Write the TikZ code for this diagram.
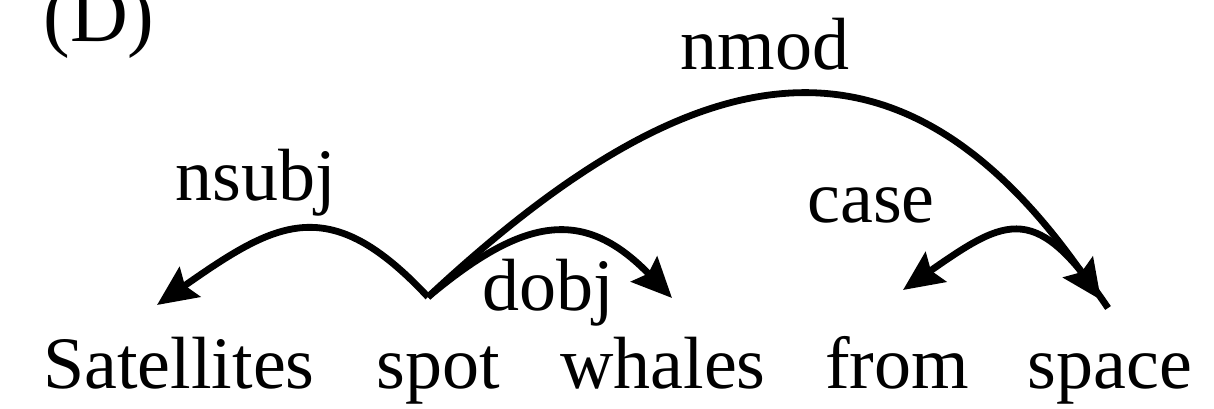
\documentclass[tikz,border=0pt]{standalone}
\usepackage{fontspec}
\setmainfont{Liberation Serif}
\usetikzlibrary{arrows.meta}
\tikzset{
  token/.style={inner sep=0pt, anchor=base, font=\fontsize{37}{44}\selectfont},
  deplabel/.style={inner sep=0pt, anchor=base, font=\fontsize{37}{44}\selectfont},
  deparc/.style={-{Stealth[length=20pt, width=18pt, inset=3pt]}, line width=3.4pt}
}

\begin{document}
\begin{tikzpicture}[x=0.5pt, y=0.5pt]
    \useasboundingbox (0,0) rectangle (1214,408);
    \node[deplabel, font=\fontsize{40}{48}\selectfont] (panel) at (99,366) {(D)};

    % the sentence
    \node[token] (sat) at (179,20) {Satellites};
    \node[token] (spot) at (438,20) {spot};
    \node[token] (whales) at (663,20) {whales};
    \node[token] (from) at (897,20) {from};
    \node[token] (space) at (1110,20) {space};

    % where the arcs leave and land
    \coordinate (spot-root) at (428,111);
    \coordinate (space-root) at (1108,100);
    \coordinate (sat-in) at (157,103);
    \coordinate (whales-in) at (672,110);
    \coordinate (from-in) at (903,118);
    \coordinate (space-in) at (1101,108);

    \draw[deparc] (spot-root) to[out=133, in=35, looseness=1.37] (sat-in);
    \draw[deparc] (spot-root) to[out=40, in=134, looseness=1.32] (whales-in);
    \draw[deparc] (spot-root) to[out=43, in=125, looseness=1.36] (space-in);
    \draw[deparc] (space-root) to[out=124, in=35, looseness=1.6] (from-in);

    \node[deplabel] (nsubj) at (256,208) {nsubj};
    \node[deplabel] (dobj) at (548,98) {dobj};
    \node[deplabel] (nmod) at (765,338) {nmod};
    \node[deplabel] (case) at (871,186) {case};
\end{tikzpicture}
\end{document}
